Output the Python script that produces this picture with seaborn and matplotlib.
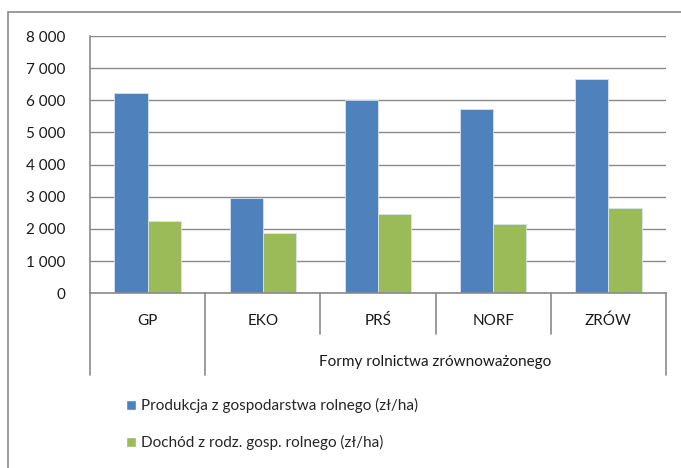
import matplotlib
matplotlib.use("Agg")
import matplotlib.pyplot as plt
import matplotlib.transforms as mtransforms
from matplotlib.patches import Rectangle, Patch
from matplotlib.ticker import FuncFormatter
import seaborn as sns
import pandas as pd

categories = ["GP", "EKO", "PRŚ", "NORF", "ZRÓW"]
series_names = ["Produkcja z gospodarstwa rolnego (zł/ha)",
                "Dochód z rodz. gosp. rolnego (zł/ha)"]
produkcja = [6230, 2950, 6010, 5730, 6670]
dochod = [2250, 1870, 2470, 2150, 2640]
group_label = "Formy rolnictwa zrównoważonego"
y_ticks = [0, 1000, 2000, 3000, 4000, 5000, 6000, 7000, 8000]
colors = ["#4F81BD", "#9BBB59"]

df = pd.DataFrame({
    "kat": categories * 2,
    "seria": [series_names[0]] * len(categories) + [series_names[1]] * len(categories),
    "val": produkcja + dochod,
})

sns.set_style("white")
plt.rcParams["font.family"] = ["Lato", "DejaVu Sans"]
FS = 11
GRAY = "#8a8a8a"

fig = plt.figure(figsize=(6.81, 4.68), dpi=100)
ax = fig.add_axes([90 / 681, 1 - 293.3 / 468, (666 - 90) / 681, (293.3 - 36) / 468])

sns.barplot(data=df, x="kat", y="val", hue="seria", order=categories,
            hue_order=series_names, palette=colors, width=0.575, gap=0,
            dodge=True, ax=ax, legend=False, saturation=1,
            edgecolor="#d8e2ee", linewidth=0.6)

ax.set_xlim(-0.5, len(categories) - 0.5)
ax.set_ylim(0, 8000)
ax.set_yticks(y_ticks)
ax.yaxis.set_major_formatter(FuncFormatter(lambda v, p: f"{int(v):,}".replace(",", " ")))
ax.tick_params(axis="y", direction="out", length=6, width=1, color=GRAY,
               labelsize=FS, pad=12, labelcolor="#1a1a1a")
ax.set_axisbelow(True)
ax.yaxis.grid(True, color=GRAY, linewidth=1)
ax.set_xticks([])
ax.set_xlabel("")
ax.set_ylabel("")
for s in ["top", "right"]:
    ax.spines[s].set_visible(False)
for s in ["left", "bottom"]:
    ax.spines[s].set_color(GRAY)
    ax.spines[s].set_linewidth(1.2)

trans = mtransforms.blended_transform_factory(ax.transData, fig.transFigure)
y0 = 1 - 293.3 / 468
y_short = 1 - 334 / 468
y_long = 1 - 375 / 468
n = len(categories)
for i in range(n + 1):
    xpos = i - 0.5
    yend = y_long if i in (0, 1, n) else y_short
    ax.plot([xpos, xpos], [y0, yend], transform=trans, color=GRAY, lw=1.2, clip_on=False)
for i, c in enumerate(categories):
    ax.text(i, 1 - 321 / 468, c, transform=trans, ha="center", va="center",
            fontsize=FS, color="#1a1a1a")
ax.text((1 + n - 1) / 2, 1 - 362 / 468, group_label, transform=trans,
        ha="center", va="center", fontsize=FS, color="#1a1a1a")

handles = [Patch(facecolor=colors[0]), Patch(facecolor=colors[1])]
fig.legend(handles, series_names, loc="upper left",
           bbox_to_anchor=(126 / 681, 1 - 398 / 468), frameon=False,
           fontsize=FS, handlelength=0.65, handleheight=0.65, handletextpad=0.3,
           labelspacing=1.45, borderaxespad=0, borderpad=0)

fig.patches.append(Rectangle((8 / 681, -0.1), 1.2, 1 - 12 / 468 + 0.1,
                             transform=fig.transFigure, fill=False,
                             edgecolor=GRAY, linewidth=1.2))

fig.savefig("out.png", dpi=100)
